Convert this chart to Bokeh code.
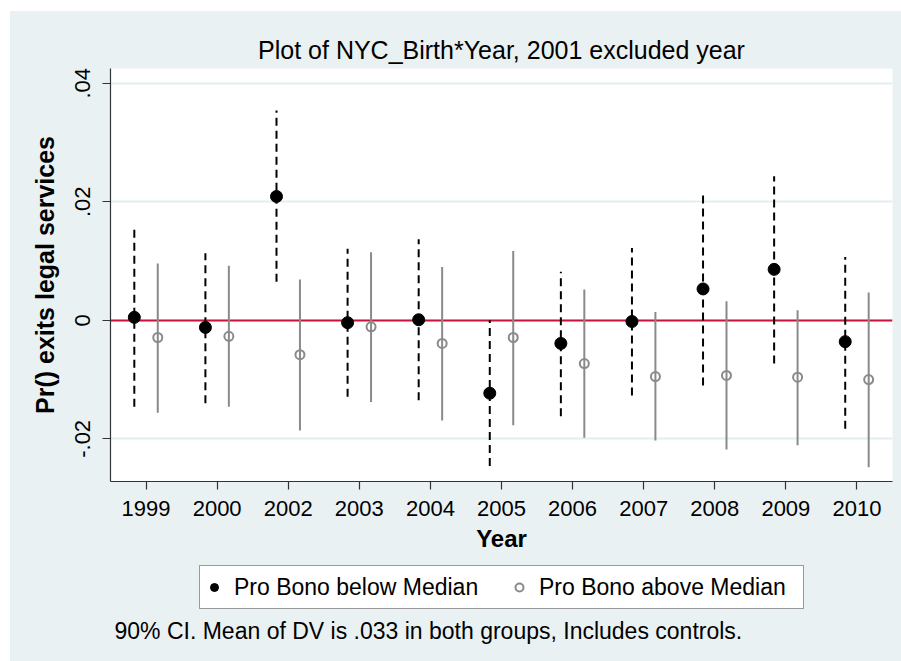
from bokeh.plotting import figure
from bokeh.layouts import column
from bokeh.models import (ColumnDataSource, FactorRange, Range1d, FixedTicker,
                          Legend, LegendItem, Label)
from bokeh.transform import dodge
from bokeh.embed import file_html
from bokeh.resources import INLINE

# ---- data ----
years = ["1999", "2000", "2002", "2003", "2004", "2005", "2006", "2007", "2008", "2009", "2010"]

below_est = [0.0005, -0.0012, 0.0209, -0.0004, 0.0001, -0.0123, -0.0039, -0.0002, 0.0053, 0.0086, -0.0036]
below_hi = [0.0155, 0.0113, 0.0354, 0.0121, 0.0137, 0.0000, 0.0082, 0.0122, 0.0212, 0.0243, 0.0107]
below_lo = [-0.0146, -0.0140, 0.0065, -0.0129, -0.0135, -0.0246, -0.0162, -0.0127, -0.0110, -0.0073, -0.0183]

above_est = [-0.0029, -0.0027, -0.0058, -0.0011, -0.0039, -0.0029, -0.0073, -0.0095, -0.0093, -0.0096, -0.0100]
above_hi = [0.0096, 0.0092, 0.0069, 0.0115, 0.0090, 0.0117, 0.0052, 0.0014, 0.0032, 0.0017, 0.0047]
above_lo = [-0.0156, -0.0146, -0.0186, -0.0138, -0.0169, -0.0177, -0.0198, -0.0203, -0.0218, -0.0211, -0.0248]

ytick_vals = [-0.02, 0, 0.02, 0.04]
ytick_labels = ["-.02", "0", ".02", ".04"]
zero_line = [0]

title_text = "Plot of NYC_Birth*Year, 2001 excluded year"
ylabel = "Pr() exits legal services"
xlabel = "Year"
legend_labels = ["Pro Bono below Median", "Pro Bono above Median"]
note_text = "90% CI. Mean of DV is .033 in both groups, Includes controls."

# ---- styling ----
BG = "#EAF1F3"
FONT = "Liberation Sans"
RED = "#C8143C"
GRAY = "#8A8A8A"
OFF = 0.165

src = ColumnDataSource(dict(year=years,
                            below_est=below_est, below_hi=below_hi, below_lo=below_lo,
                            above_est=above_est, above_hi=above_hi, above_lo=above_lo))

p = figure(width=891, height=550,
           x_range=FactorRange(factors=years, range_padding=0),
           y_range=Range1d(-0.0272, 0.0425),
           output_backend="svg", toolbar_location=None,
           min_border_left=100, min_border_right=9, min_border_top=57, min_border_bottom=80,
           background_fill_color="white", border_fill_color=BG)
p.outline_line_color = None

# title
p.title.text = title_text
p.title.align = "center"
p.title.text_font = FONT
p.title.text_font_size = "25px"
p.title.text_font_style = "normal"
p.title.text_color = "black"
p.title.standoff = 9

# grid
p.xgrid.visible = False
p.ygrid.ticker = FixedTicker(ticks=ytick_vals)
p.ygrid.grid_line_color = "#E4EDEF"
p.ygrid.grid_line_width = 2

# axes
for ax in (p.xaxis[0], p.yaxis[0]):
    ax.axis_line_color = "#333333"
    ax.axis_line_width = 1.2
    ax.major_tick_line_color = "#333333"
    ax.major_tick_line_width = 1.2
    ax.major_tick_in = 0
    ax.major_tick_out = 8
    ax.minor_tick_line_color = None
    ax.major_label_text_font = FONT
    ax.major_label_text_font_size = "22px"
    ax.major_label_text_color = "black"
    ax.axis_label_text_font = FONT
    ax.axis_label_text_font_style = "bold"
    ax.axis_label_text_color = "black"

p.xaxis.axis_label = xlabel
p.xaxis.axis_label_text_font_size = "24px"
p.xaxis.major_label_standoff = 11
p.xaxis.axis_label_standoff = 6

p.yaxis.axis_label = ylabel
p.yaxis.axis_label_text_font_size = "25px"
p.yaxis.ticker = FixedTicker(ticks=ytick_vals)
p.yaxis.major_label_overrides = {v: l for v, l in zip(ytick_vals, ytick_labels)}
p.yaxis.major_label_orientation = "vertical"
p.yaxis.major_label_standoff = 12
p.yaxis.axis_label_standoff = 14

# zero reference line
p.hspan(y=zero_line, line_color=RED, line_width=2)

# CIs
xb = dodge("year", -OFF, range=p.x_range)
xa = dodge("year", OFF, range=p.x_range)
p.segment(x0=xb, y0="below_lo", x1=xb, y1="below_hi", source=src,
          line_color="black", line_width=2, line_dash="8 5")
p.segment(x0=xa, y0="above_lo", x1=xa, y1="above_hi", source=src,
          line_color=GRAY, line_width=2)

# points
p.scatter(x=xb, y="below_est", source=src, marker="circle", size=12,
          fill_color="black", line_color="black")
p.scatter(x=xa, y="above_est", source=src, marker="circle", size=9,
          fill_color=None, line_color=GRAY, line_width=2)

# ---- legend + note strip (second figure sharing the background) ----
p2 = figure(width=891, height=100, x_range=Range1d(0, 1), y_range=Range1d(0, 1),
            x_axis_type=None, y_axis_type=None,
            output_backend="svg", toolbar_location=None,
            min_border_left=0, min_border_right=0, min_border_top=0, min_border_bottom=0,
            background_fill_color=BG, border_fill_color=BG)
p2.outline_line_color = None
p2.grid.visible = False

# legend key markers (styled like the main markers; placed off-canvas)
k_below = p2.scatter(x=[-10], y=[-10], marker="circle", size=12,
                     fill_color="black", line_color="black")
k_above = p2.scatter(x=[-10], y=[-10], marker="circle", size=9,
                     fill_color=None, line_color=GRAY, line_width=2)

legend = Legend(items=[LegendItem(label=legend_labels[0], renderers=[k_below]),
                       LegendItem(label=legend_labels[1], renderers=[k_above])],
                orientation="horizontal", location=(89, 52),
                label_text_font=FONT, label_text_font_size="23px", label_text_color="black",
                glyph_width=20, glyph_height=34, label_standoff=10, spacing=15,
                padding=4, label_width=260,
                border_line_color="#333333", border_line_width=1,
                background_fill_color="white", background_fill_alpha=1.0,
                margin=0)
p2.add_layout(legend, "center")

note = Label(x=4, y=31, x_units="screen", y_units="screen", text=note_text,
             text_font=FONT, text_font_size="23px", text_color="black",
             text_baseline="middle", text_align="left")
p2.add_layout(note)

layout = column(p, p2, spacing=0)
layout.margin = (11, 0, 0, 10)
layout.styles = {"background-color": BG}
open("out.html", "w").write(file_html(layout, INLINE))
